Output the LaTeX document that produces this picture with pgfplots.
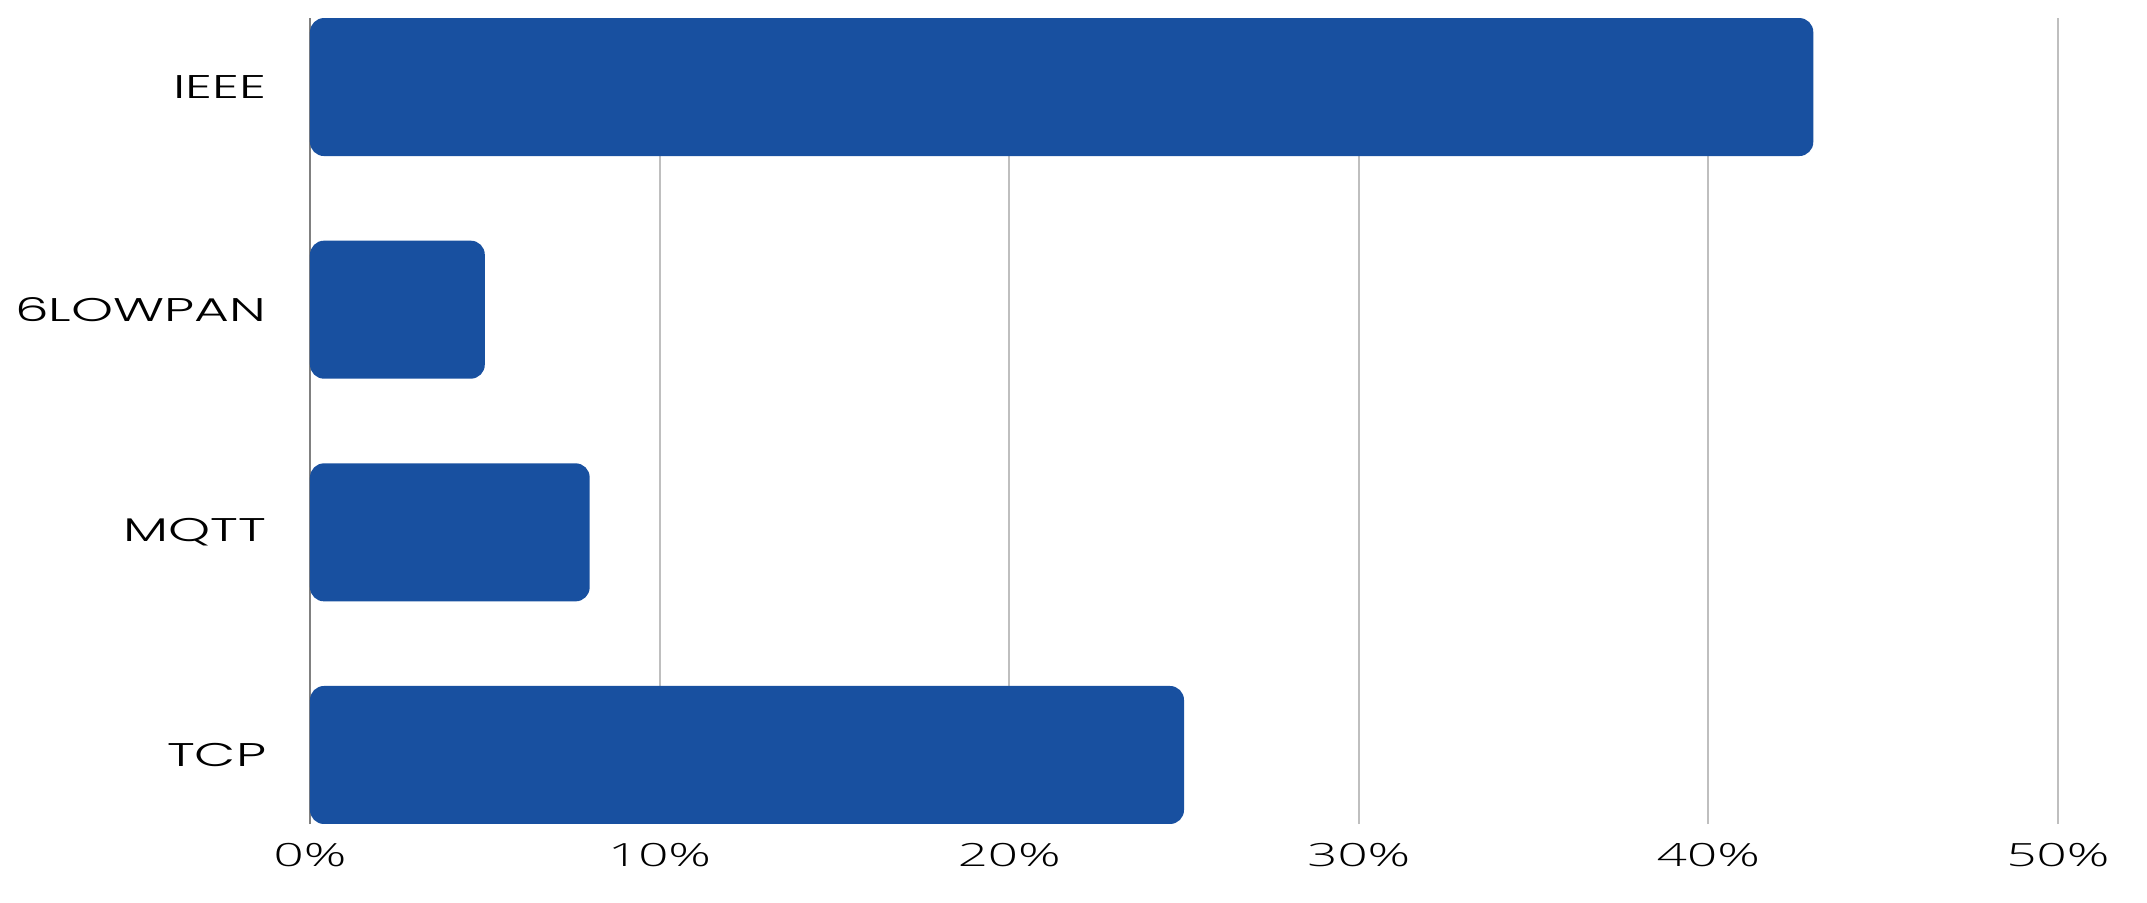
\documentclass[border=0pt]{standalone}
\usepackage{pgfplots}
\pgfplotsset{compat=1.18}
\usepackage{fontspec}
\newfontfamily\labfont[FakeStretch=1.63]{Poppins Light}
\newfontfamily\tickfont[FakeStretch=1.65]{Open Sans Light}
\definecolor{barblue}{HTML}{1850A0}
\definecolor{gridgray}{HTML}{BFBFBF}
\definecolor{axgray}{HTML}{808080}
\begin{document}
\begin{tikzpicture}
\begin{axis}[
  name=ax,
  scale only axis,
  width=437pt, height=201.5pt,
  xmin=0, xmax=50, ymin=-0.31, ymax=3.31,
  xbar, bar width=34.5pt,
  axis lines*=left,
  x axis line style={draw=none},
  y axis line style={draw=axgray, line width=0.5pt},
  xmajorgrids, grid style={draw=gridgray, line width=0.5pt},
  major tick length=0pt,
  xtick={0,10,20,30,40,50},
  xticklabels={0\%,10\%,20\%,30\%,40\%,50\%},
  ytick={0,1,2,3},
  yticklabels={TCP,MQTT,6LOWPAN,IEEE},
  xticklabel style={font=\fontsize{8}{9}\tickfont, inner sep=0pt, anchor=north, yshift=-4.5pt},
  yticklabel style={font=\fontsize{8.2}{9}\labfont, inner sep=0pt, anchor=east, xshift=-10.75pt},
]
\addplot[fill=barblue, draw=none, rounded corners=3.5pt] coordinates {(43,3) (5,2) (8,1) (25,0)};
\end{axis}
\pgfresetboundingbox
\path ([xshift=-77.5pt,yshift=-19.5pt]ax.south west) rectangle ([xshift=22.25pt,yshift=4.5pt]ax.north east);
\end{tikzpicture}
\end{document}
